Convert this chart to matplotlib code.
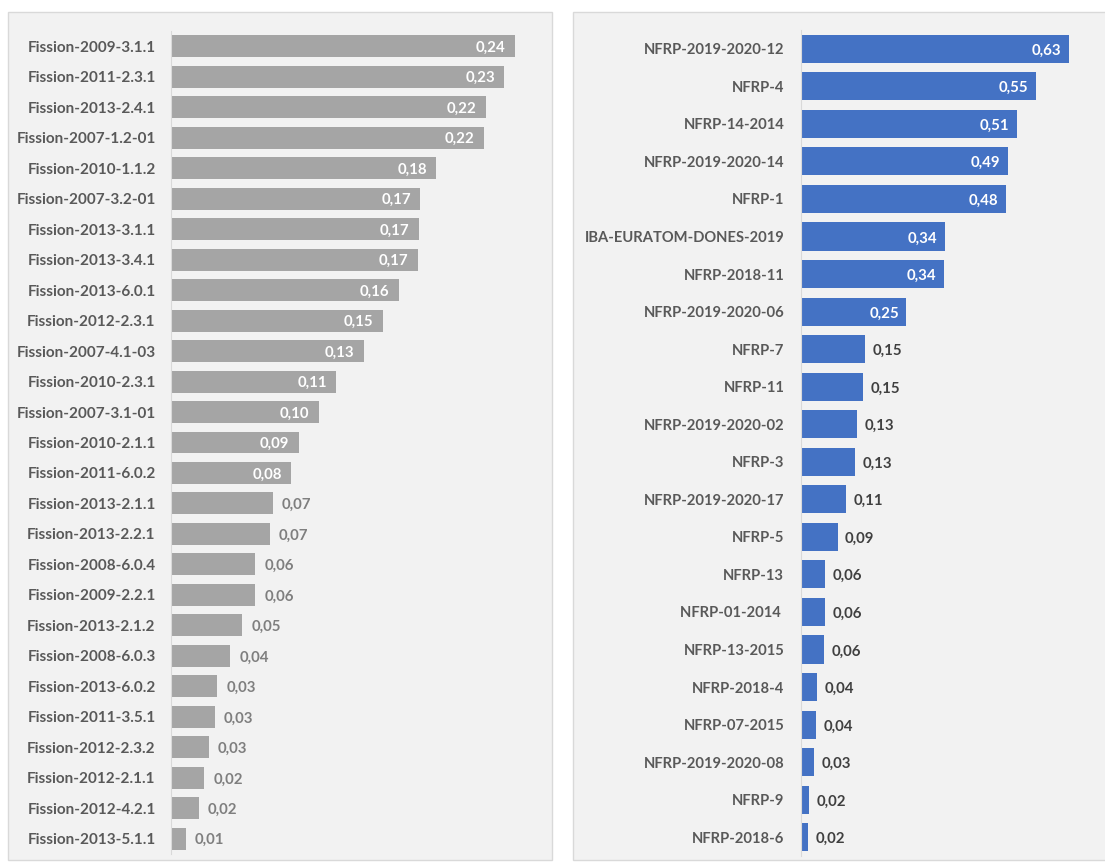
import matplotlib.pyplot as plt
from matplotlib.patches import Rectangle

# left panel: fission calls
fission_labels = ['Fission-2009-3.1.1', 'Fission-2011-2.3.1', 'Fission-2013-2.4.1', 'Fission-2007-1.2-01',
                  'Fission-2010-1.1.2', 'Fission-2007-3.2-01', 'Fission-2013-3.1.1', 'Fission-2013-3.4.1',
                  'Fission-2013-6.0.1', 'Fission-2012-2.3.1', 'Fission-2007-4.1-03', 'Fission-2010-2.3.1',
                  'Fission-2007-3.1-01', 'Fission-2010-2.1.1', 'Fission-2011-6.0.2', 'Fission-2013-2.1.1',
                  'Fission-2013-2.2.1', 'Fission-2008-6.0.4', 'Fission-2009-2.2.1', 'Fission-2013-2.1.2',
                  'Fission-2008-6.0.3', 'Fission-2013-6.0.2', 'Fission-2011-3.5.1', 'Fission-2012-2.3.2',
                  'Fission-2012-2.1.1', 'Fission-2012-4.2.1', 'Fission-2013-5.1.1']
fission_values = [0.237, 0.230, 0.217, 0.216, 0.183, 0.172, 0.171, 0.170, 0.157, 0.146, 0.133, 0.114,
                  0.102, 0.088, 0.083, 0.070, 0.068, 0.058, 0.058, 0.049, 0.041, 0.032, 0.030, 0.026,
                  0.023, 0.019, 0.010]

# right panel: NFRP calls
nfrp_labels = ['NFRP-2019-2020-12', 'NFRP-4', 'NFRP-14-2014', 'NFRP-2019-2020-14', 'NFRP-1',
               'IBA-EURATOM-DONES-2019', 'NFRP-2018-11', 'NFRP-2019-2020-06', 'NFRP-7', 'NFRP-11',
               'NFRP-2019-2020-02', 'NFRP-3', 'NFRP-2019-2020-17', 'NFRP-5', 'NFRP-13', 'NFRP-01-2014 ',
               'NFRP-13-2015', 'NFRP-2018-4', 'NFRP-07-2015', 'NFRP-2019-2020-08', 'NFRP-9', 'NFRP-2018-6']
nfrp_values = [0.630, 0.553, 0.508, 0.487, 0.482, 0.338, 0.336, 0.248, 0.151, 0.146, 0.132, 0.128,
               0.106, 0.086, 0.057, 0.057, 0.055, 0.038, 0.035, 0.031, 0.019, 0.016]

plt.rcParams['font.family'] = ['Lato', 'DejaVu Sans']

W, H = 1105, 866
fig = plt.figure(figsize=(W / 100, H / 100), dpi=100)
fig.patch.set_facecolor('white')

# panel backgrounds
for x0, x1 in [(8, 552), (573, 1110)]:
    fig.patches.append(Rectangle((x0 / W, 1 - 860 / H), (x1 - x0) / W, (860 - 12) / H,
                                 transform=fig.transFigure, facecolor='#f2f2f2',
                                 edgecolor='#d9d9d9', lw=1, zorder=-1))


def draw_panel(rect, labels, values, color, xmax, inside_min, out_color, bar_h, lab_fs, pad):
    ax = fig.add_axes(rect)
    ax.set_facecolor('none')
    y = list(range(len(values)))
    ax.barh(y, values, height=bar_h, color=color)
    ax.set_ylim(len(values) - 0.5, -0.5)
    ax.set_xlim(0, xmax)
    ax.set_yticks(y)
    ax.set_yticklabels(labels, fontsize=lab_fs, fontweight='bold', color='#595959')
    ax.tick_params(axis='y', length=0, pad=pad)
    ax.set_xticks([])
    for s in ['top', 'right', 'bottom']:
        ax.spines[s].set_visible(False)
    ax.spines['left'].set_color('#d9d9d9')
    off = xmax * 0.025
    for yi, v in zip(y, values):
        txt = f'{v:.2f}'.replace('.', ',')
        if v >= inside_min:
            ax.text(v - off, yi + 0.05, txt, ha='right', va='center', color='white',
                    fontsize=10.8, fontweight='bold')
        else:
            ax.text(v + off, yi + 0.05, txt, ha='left', va='center', color=out_color,
                    fontsize=10.8, fontweight='bold')
    return ax


# left axes: x 171..548, y 31..854
draw_panel([171 / W, 1 - 854 / H, 377 / W, 823 / H], fission_labels, fission_values,
           '#a5a5a5', 0.26, 0.08, '#7f7f7f', 0.72, 11, 11)
# right axes: x 801..1098, y 30..856
draw_panel([801 / W, 1 - 856 / H, 297.5 / W, 826 / H], nfrp_labels, nfrp_values,
           '#4472c4', 0.70, 0.2, '#404040', 0.75, 10.6, 12)

fig.savefig('out.png', dpi=100)
